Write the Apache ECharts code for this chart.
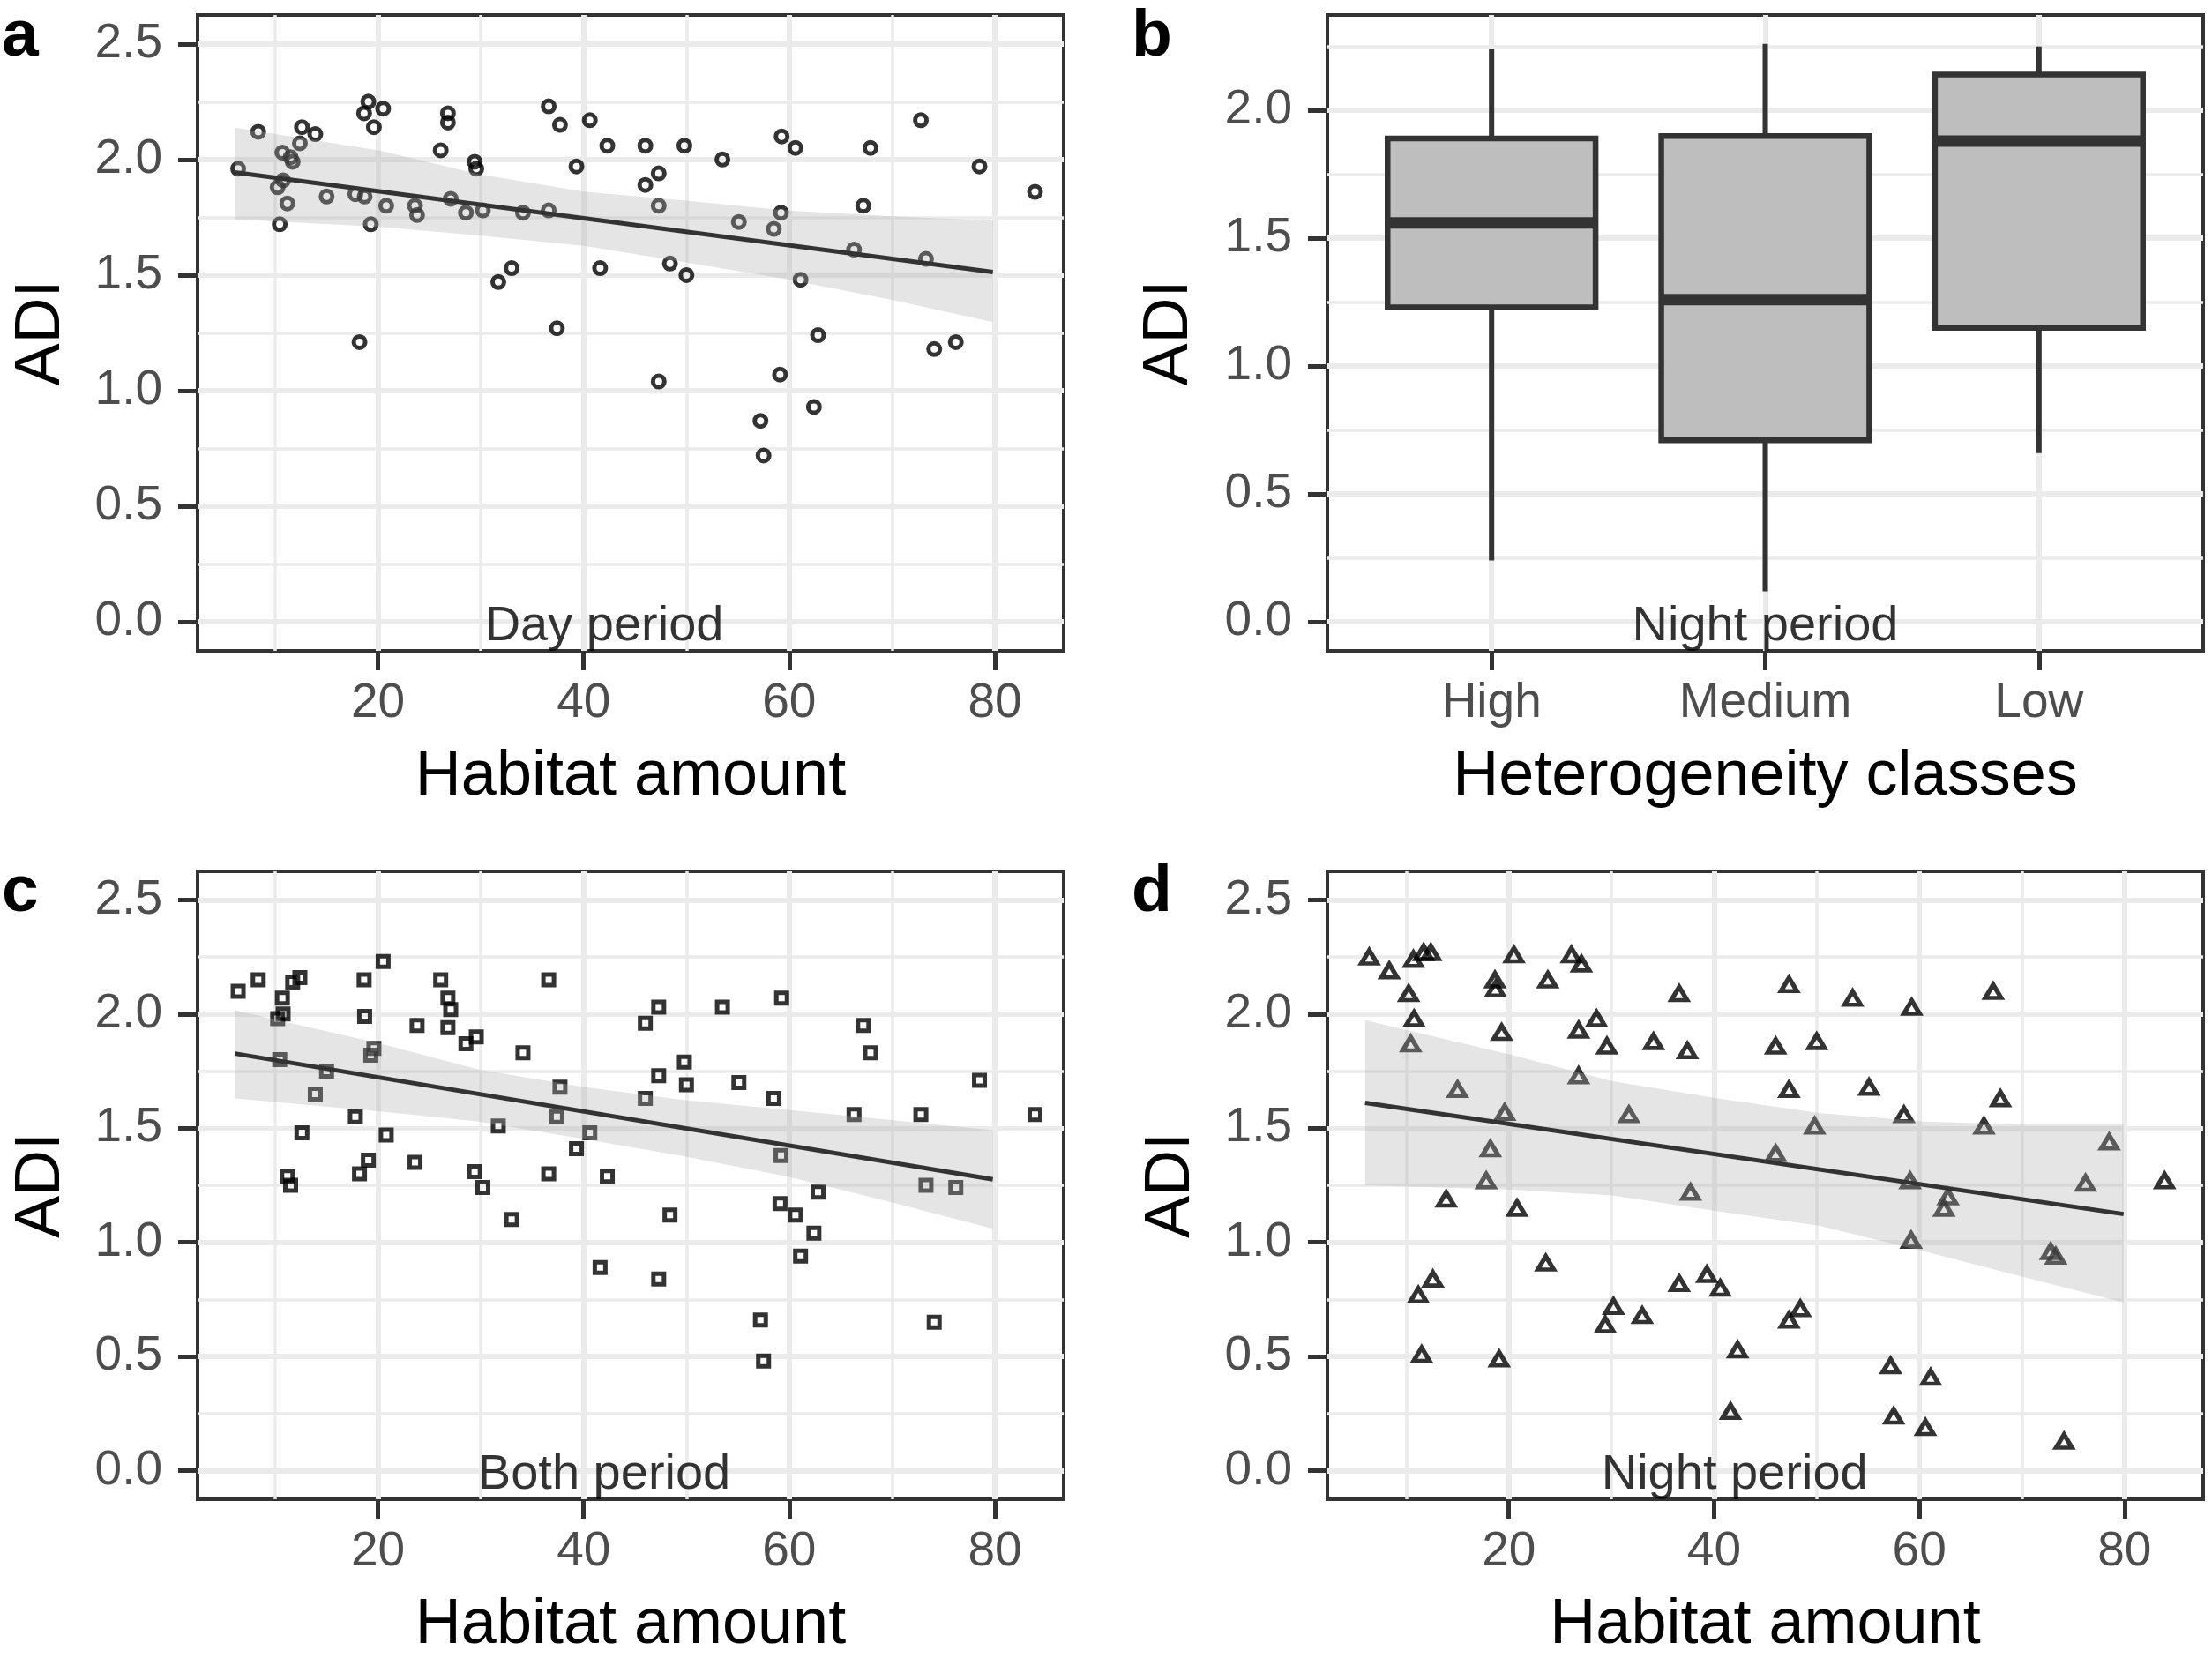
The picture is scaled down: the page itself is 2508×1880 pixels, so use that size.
<!DOCTYPE html>
<html>
<head>
<meta charset="utf-8">
<title>ADI vs habitat amount and heterogeneity</title>
<script src="https://cdn.jsdelivr.net/npm/echarts@6.0.0/dist/echarts.min.js"></script>
<style>
    html, body { margin: 0; padding: 0; background: #ffffff; }
    #chart { width: 2508px; height: 1880px; }
</style>
</head>
<body>
<div id="chart"></div>
<script>
// habitat amount of each site, same sites in panels a, c and d
var habitat = [6.4, 8.35, 10.24, 10.44, 10.7, 10.77, 11.18, 11.5, 11.7, 12.4, 12.6, 13.9, 15.0, 17.8, 18.2, 18.65, 18.7, 19.06,
    19.3, 19.6, 20.5, 20.8, 23.6, 23.8, 26.1, 26.8, 26.8, 27.07, 28.55, 29.4, 29.56, 30.2, 31.7, 33.0, 34.1, 36.6,
    36.6, 37.4, 37.7, 39.3, 40.6, 41.6, 42.3, 46.0, 46.0, 47.3, 47.3, 47.3, 48.4, 49.8, 50.0, 53.5, 55.1, 57.2,
    57.5, 58.5, 59.1, 59.2, 59.26, 60.6, 61.1, 62.4, 62.8, 66.3, 67.2, 67.9, 72.8, 73.3, 74.1, 76.2, 78.5, 83.9];

var adiDay = [1.96, 2.12, 1.88, 1.72, 2.03, 1.91, 1.81, 2.01, 1.99, 2.07, 2.14, 2.11, 1.84, 1.85, 1.21, 2.20, 1.84, 2.25,
    1.72, 2.14, 2.22, 1.80, 1.80, 1.76, 2.04, 2.20, 2.16, 1.83, 1.77, 1.99, 1.96, 1.78, 1.47, 1.53, 1.77, 2.23,
    1.78, 1.27, 2.15, 1.97, 2.17, 1.53, 2.06, 2.06, 1.89, 1.94, 1.80, 1.04, 1.55, 2.06, 1.50, 2.00, 1.73, 0.87,
    0.72, 1.70, 1.07, 1.77, 2.10, 2.05, 1.48, 0.93, 1.24, 1.61, 1.80, 2.05, 2.17, 1.57, 1.18, 1.21, 1.97, 1.86];

var adiBoth = [2.10, 2.15, 1.98, 1.80, 2.07, 2.00, 1.29, 1.25, 2.14, 2.16, 1.48, 1.65, 1.75, 1.55, 1.30, 2.15, 1.99, 1.36,
    1.82, 1.85, 2.23, 1.47, 1.35, 1.95, 2.15, 2.07, 1.94, 2.02, 1.87, 1.31, 1.90, 1.24, 1.51, 1.10, 1.83, 2.15,
    1.30, 1.55, 1.68, 1.41, 1.48, 0.89, 1.29, 1.96, 1.63, 2.03, 1.73, 0.84, 1.12, 1.79, 1.69, 2.03, 1.70, 0.66,
    0.48, 1.63, 1.17, 1.38, 2.07, 1.12, 0.94, 1.04, 1.22, 1.56, 1.95, 1.83, 1.56, 1.25, 0.65, 1.24, 1.71, 1.56];

var adiNight = [2.25, 2.19, 2.09, 1.87, 2.24, 1.98, 0.77, 0.51, 2.27, 2.27, 0.84, 1.19, 1.67, 1.27, 1.41, 2.15, 2.11, 0.49,
    1.92, 1.57, 2.26, 1.15, 0.91, 2.15, 2.26, 1.93, 1.73, 2.22, 1.98, 0.64, 1.86, 0.72, 1.56, 0.68, 1.88, 2.09,
    0.82, 1.84, 1.22, 0.86, 0.80, 0.26, 0.53, 1.86, 1.39, 2.13, 1.67, 0.66, 0.71, 1.51, 1.88, 2.07, 1.68, 0.46,
    0.24, 1.56, 1.27, 1.01, 2.03, 0.19, 0.41, 1.15, 1.20, 1.51, 2.10, 1.63, 0.96, 0.94, 0.13, 1.26, 1.44, 1.27];

// linear fits and their confidence bands
var fitXDay = [6.1, 79.8];
var fitYDay = [1.944, 1.513];
var bandXDay = [6.1, 20.2, 29.8, 40.0, 49.7, 59.9, 70.1, 79.8];
var bandHiDay = [2.138, 2.039, 1.937, 1.861, 1.823, 1.779, 1.754, 1.735];
var bandLoDay = [1.741, 1.709, 1.671, 1.627, 1.557, 1.481, 1.392, 1.297];

var fitXBoth = [6.1, 79.8];
var fitYBoth = [1.827, 1.276];
var bandXBoth = [6.1, 20.2, 29.8, 40.0, 49.7, 59.9, 70.1, 79.8];
var bandHiBoth = [2.017, 1.871, 1.757, 1.681, 1.624, 1.580, 1.535, 1.491];
var bandLoBoth = [1.630, 1.573, 1.529, 1.453, 1.377, 1.288, 1.174, 1.060];

var fitXNight = [6.0, 79.9];
var fitYNight = [1.611, 1.124];
var bandXNight = [6.0, 20.3, 30.1, 40.4, 50.2, 60.6, 70.4, 79.9];
var bandHiNight = [1.973, 1.821, 1.706, 1.630, 1.567, 1.529, 1.516, 1.516];
var bandLoNight = [1.250, 1.231, 1.206, 1.136, 1.073, 0.959, 0.845, 0.737];

// panel b boxplot (night period)
var classes = ['High', 'Medium', 'Low'];
var boxMin = [0.24, 0.12, 0.66];
var boxQ1 = [1.23, 0.71, 1.15];
var boxMedian = [1.56, 1.26, 1.88];
var boxQ3 = [1.89, 1.90, 2.14];
var boxMax = [2.24, 2.26, 2.25];

// ticks
var habitatTicks = [20, 40, 60, 80];
var habitatMinor = [10, 30, 50, 70];
var adiTicks = [0, 0.5, 1, 1.5, 2, 2.5];
var adiMinor = [0.25, 0.75, 1.25, 1.75, 2.25];
var classTicks = [1, 2, 3];

var periodLabels = ['Day period', 'Night period', 'Both period', 'Night period'];
var labelX = 42;
var labelY = 0;

var FONT = 'Liberation Sans';
var DARK = '#333333';
var GRIDCOL = '#ebebeb';
var BANDCOL = 'rgba(175,175,175,0.32)';

var grids = [
    {left: 224, top: 17, width: 982, height: 721},
    {left: 1505, top: 17, width: 993, height: 721},
    {left: 224, top: 988, width: 982, height: 719},
    {left: 1505, top: 988, width: 993, height: 719}
];
grids.forEach(function (g) {
    g.show = true;
    g.borderColor = DARK;
    g.borderWidth = 4;
    g.backgroundColor = '#ffffff';
});

var xAxes = [];
var yAxes = [];

function addX(grid, min, max, ticks, minor, name, fmt) {
    var idx = xAxes.length;
    xAxes.push({
        type: 'value', gridIndex: grid, min: min, max: max, position: 'bottom',
        name: name, nameLocation: 'middle', nameGap: 107,
        nameTextStyle: {fontFamily: FONT, fontSize: 72, color: '#000000'},
        axisLine: {show: false, onZero: false},
        axisTick: {show: true, customValues: ticks, length: 22, lineStyle: {color: DARK, width: 5}},
        axisLabel: {customValues: ticks, margin: 32, fontFamily: FONT, fontSize: 55, color: '#4d4d4d', formatter: fmt},
        splitLine: {show: true, lineStyle: {color: GRIDCOL, width: 6}}
    });
    if (minor) {
        xAxes.push({
            type: 'value', gridIndex: grid, min: min, max: max, position: 'top',
            axisLine: {show: false, onZero: false},
            axisTick: {show: false, customValues: minor},
            axisLabel: {show: false},
            splitLine: {show: true, lineStyle: {color: GRIDCOL, width: 3.5}}
        });
    }
    return idx;
}

function addY(grid, min, max, gap) {
    var idx = yAxes.length;
    yAxes.push({
        type: 'value', gridIndex: grid, min: min, max: max, position: 'left',
        name: 'ADI', nameLocation: 'middle', nameGap: gap, nameRotate: 90,
        nameTextStyle: {fontFamily: FONT, fontSize: 72, color: '#000000'},
        axisLine: {show: false, onZero: false},
        axisTick: {show: true, customValues: adiTicks, length: 22, lineStyle: {color: DARK, width: 5}},
        axisLabel: {customValues: adiTicks, margin: 40, fontFamily: FONT, fontSize: 55, color: '#4d4d4d',
            formatter: function (v) { return v.toFixed(1); }},
        splitLine: {show: true, lineStyle: {color: GRIDCOL, width: 6}}
    });
    yAxes.push({
        type: 'value', gridIndex: grid, min: min, max: max, position: 'right',
        axisLine: {show: false, onZero: false},
        axisTick: {show: false, customValues: adiMinor},
        axisLabel: {show: false},
        splitLine: {show: true, lineStyle: {color: GRIDCOL, width: 3.5}}
    });
    return idx;
}

var xA = addX(0, 2.45, 86.69, habitatTicks, habitatMinor, 'Habitat amount', null);
var yA = addY(0, -0.125, 2.625, 141);
var xB = addX(1, 0.4, 3.6, classTicks, null, 'Heterogeneity classes', function (v) { return classes[Math.round(v) - 1]; });
var yB = addY(1, -0.113, 2.373, 143);
var xC = addX(2, 2.45, 86.69, habitatTicks, habitatMinor, 'Habitat amount', null);
var yC = addY(2, -0.125, 2.625, 141);
var xD = addX(3, 2.32, 87.66, habitatTicks, habitatMinor, 'Habitat amount', null);
var yD = addY(3, -0.125, 2.625, 141);

function pairs(xs, ys) {
    var out = [];
    for (var i = 0; i < xs.length; i = i + 1) {
        out.push([xs[i], ys[i]]);
    }
    return out;
}

function pointSeries(xi, yi, ys, symbol, size, bw) {
    return {
        type: 'scatter', xAxisIndex: xi, yAxisIndex: yi, z: 2, silent: true,
        symbol: symbol, symbolSize: size,
        itemStyle: {color: 'rgba(0,0,0,0)', borderColor: '#000000', borderWidth: bw},
        data: pairs(habitat, ys)
    };
}

function bandSeries(xi, yi, bx, lo, hi) {
    return {
        type: 'custom', xAxisIndex: xi, yAxisIndex: yi, z: 3, silent: true,
        data: [[bx[0], lo[0]]],
        renderItem: function (params, api) {
            var pts = [];
            for (var i = 0; i < bx.length; i = i + 1) {
                pts.push(api.coord([bx[i], hi[i]]));
            }
            for (var j = bx.length - 1; j >= 0; j = j - 1) {
                pts.push(api.coord([bx[j], lo[j]]));
            }
            return {type: 'polygon', shape: {points: pts}, style: {fill: BANDCOL}};
        }
    };
}

function fitSeries(xi, yi, fx, fy) {
    return {
        type: 'line', xAxisIndex: xi, yAxisIndex: yi, z: 4, silent: true,
        symbol: 'none', lineStyle: {color: DARK, width: 5},
        data: pairs(fx, fy)
    };
}

function labelSeries(xi, yi, x, y, text) {
    return {
        type: 'scatter', xAxisIndex: xi, yAxisIndex: yi, z: 5, silent: true,
        symbolSize: 0,
        label: {show: true, position: 'inside', offset: [0, 5], formatter: text,
            fontFamily: FONT, fontSize: 56, color: '#000000'},
        data: [[x, y]]
    };
}

var boxRows = [];
for (var i = 0; i < classes.length; i = i + 1) {
    boxRows.push([classTicks[i], boxMin[i], boxQ1[i], boxMedian[i], boxQ3[i], boxMax[i]]);
}

var boxSeries = {
    type: 'custom', xAxisIndex: xB, yAxisIndex: yB, z: 2, silent: true,
    encode: {x: 0, y: [1, 2, 3, 4, 5]},
    data: boxRows,
    renderItem: function (params, api) {
        var x = api.value(0);
        var halfW = api.size([0.76, 0])[0] / 2;
        var pMin = api.coord([x, api.value(1)]);
        var pQ1 = api.coord([x, api.value(2)]);
        var pMed = api.coord([x, api.value(3)]);
        var pQ3 = api.coord([x, api.value(4)]);
        var pMax = api.coord([x, api.value(5)]);
        var ln = {stroke: DARK, lineWidth: 6};
        return {
            type: 'group',
            children: [
                {type: 'line', shape: {x1: pMax[0], y1: pMax[1], x2: pQ3[0], y2: pQ3[1]}, style: ln},
                {type: 'line', shape: {x1: pQ1[0], y1: pQ1[1], x2: pMin[0], y2: pMin[1]}, style: ln},
                {type: 'rect', shape: {x: pQ3[0] - halfW, y: pQ3[1], width: 2 * halfW, height: pQ1[1] - pQ3[1]},
                    style: {fill: '#bebebe', stroke: DARK, lineWidth: 6.5}},
                {type: 'line', shape: {x1: pMed[0] - halfW, y1: pMed[1], x2: pMed[0] + halfW, y2: pMed[1]},
                    style: {stroke: DARK, lineWidth: 13}}
            ]
        };
    }
};

function panelLetter(ch, x, y) {
    return {type: 'text', x: x, y: y, silent: true,
        style: {text: ch, fontFamily: FONT, fontWeight: 'bold', fontSize: 75, fill: '#000000', verticalAlign: 'middle'}};
}

var chart = echarts.init(document.getElementById('chart'));
chart.setOption({
    animation: false,
    backgroundColor: '#ffffff',
    textStyle: {fontFamily: FONT},
    grid: grids,
    xAxis: xAxes,
    yAxis: yAxes,
    graphic: [
        panelLetter('a', 2, 42),
        panelLetter('b', 1283, 42),
        panelLetter('c', 2, 1012),
        panelLetter('d', 1283, 1012)
    ],
    series: [
        pointSeries(xA, yA, adiDay, 'circle', 13, 5),
        bandSeries(xA, yA, bandXDay, bandLoDay, bandHiDay),
        fitSeries(xA, yA, fitXDay, fitYDay),
        labelSeries(xA, yA, labelX, labelY, periodLabels[0]),

        boxSeries,
        labelSeries(xB, yB, classTicks[1], labelY, periodLabels[1]),

        pointSeries(xC, yC, adiBoth, 'rect', 12, 5),
        bandSeries(xC, yC, bandXBoth, bandLoBoth, bandHiBoth),
        fitSeries(xC, yC, fitXBoth, fitYBoth),
        labelSeries(xC, yC, labelX, labelY, periodLabels[2]),

        pointSeries(xD, yD, adiNight, 'triangle', [18, 15], 5),
        bandSeries(xD, yD, bandXNight, bandLoNight, bandHiNight),
        fitSeries(xD, yD, fitXNight, fitYNight),
        labelSeries(xD, yD, labelX, labelY, periodLabels[3])
    ]
});
</script>
</body>
</html>
